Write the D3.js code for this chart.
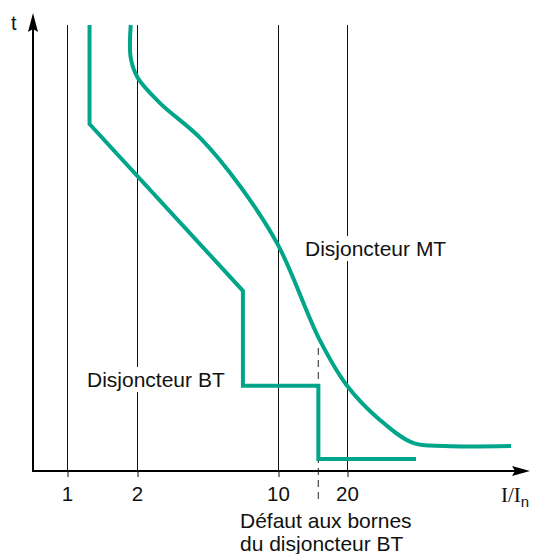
<!DOCTYPE html>
<html>
<head>
<meta charset="utf-8">
<script src="https://cdn.jsdelivr.net/npm/d3@7"></script>
<style>
  body { margin: 0; background: #fff; }
  svg { display: block; }
</style>
</head>
<body>
<script>
// grid / tick values on the I/In axis
const gridValues = [1, 2, 10, 20];
const tickLabels = ["1", "2", "10", "20"];

// low-voltage breaker (BT) curve: current ratio and time (arbitrary units)
const btCurrent = [1.25, 1.25, 6.7, 6.7, 15, 15, 40];
const btTime = [100, 77.8, 40.4, 19.1, 19.1, 2.7, 2.7];

// medium-voltage breaker (MT) curve
const mtCurrent = [1.88, 1.88, 2.02, 2.6, 4.11, 6.48, 10, 15.2, 19.9, 27.9, 38.8, 53.5, 104];
const mtTime = [100, 92.6, 88.1, 82.5, 74.7, 63.9, 50.7, 29.4, 19.3, 11.4, 6.3, 5.6, 5.6];

const faultCurrent = 15;
const faultTopTime = 27.6;

const width = 533, height = 554;
const teal = "#00a58a";
const font = "'Liberation Sans', Arial, sans-serif";

// schematic axis: piecewise log scale, as in the drawing
const x = d3.scaleLog()
    .domain(gridValues)
    .range([67, 137, 278, 347]);

const y = d3.scaleLinear()
    .domain([0, 100])
    .range([471, 25]);

const x0 = 33; // y axis position

const svg = d3.select("body").append("svg")
    .attr("width", width)
    .attr("height", height);

// vertical grid lines
svg.append("g")
    .selectAll("line")
    .data(gridValues)
    .join("line")
    .attr("x1", d => Math.round(x(d)) + 0.5)
    .attr("x2", d => Math.round(x(d)) + 0.5)
    .attr("y1", y(0))
    .attr("y2", y(100))
    .attr("stroke", "#111")
    .attr("stroke-width", 1);

// x axis ticks + labels
const xAxis = d3.axisBottom(x)
    .tickValues(gridValues)
    .tickSize(6)
    .tickFormat((d, i) => tickLabels[i]);

svg.append("g")
    .attr("transform", `translate(0,${y(0)})`)
    .call(xAxis)
    .call(g => g.select(".domain").remove())
    .call(g => g.selectAll(".tick line")
        .attr("stroke", "#111")
        .attr("transform", "translate(0.5,0)"))
    .call(g => g.selectAll(".tick text")
        .attr("y", 30)
        .attr("dy", 0)
        .attr("fill", "#111")
        .style("font", `20.5px ${font}`));

// fault dashed line
svg.append("line")
    .attr("x1", x(faultCurrent))
    .attr("x2", x(faultCurrent))
    .attr("y1", y(faultTopTime))
    .attr("y2", y(0) + 29)
    .attr("stroke", "#555")
    .attr("stroke-width", 1.3)
    .attr("stroke-dasharray", "7,5");

// axes with arrows
svg.append("line")
    .attr("x1", x0).attr("x2", x0)
    .attr("y1", y(0) + 1).attr("y2", 28)
    .attr("stroke", "#000").attr("stroke-width", 2);
svg.append("line")
    .attr("x1", x0 - 1).attr("x2", 516)
    .attr("y1", y(0)).attr("y2", y(0))
    .attr("stroke", "#000").attr("stroke-width", 2);
svg.append("path")
    .attr("d", `M${x0},13 L${x0 + 5},32 L${x0},29 L${x0 - 5},32 Z`)
    .attr("fill", "#000");
svg.append("path")
    .attr("d", `M530,${y(0)} L512,${y(0) - 5} L515,${y(0)} L512,${y(0) + 5} Z`)
    .attr("fill", "#000");

// curves
const btLine = d3.line()
    .x(d => x(d[0]))
    .y(d => y(d[1]));

svg.append("path")
    .datum(d3.zip(btCurrent, btTime))
    .attr("d", btLine)
    .attr("fill", "none")
    .attr("stroke", teal)
    .attr("stroke-width", 4)
    .attr("stroke-linejoin", "miter");

const mtLine = d3.line()
    .x(d => x(d[0]))
    .y(d => y(d[1]))
    .curve(d3.curveCatmullRom.alpha(0.5));

svg.append("path")
    .datum(d3.zip(mtCurrent, mtTime))
    .attr("d", mtLine)
    .attr("fill", "none")
    .attr("stroke", teal)
    .attr("stroke-width", 4);

// labels with white background
function label(text, px, py) {
    const g = svg.append("g");
    const rect = g.append("rect").attr("fill", "#fff");
    const t = g.append("text")
        .attr("x", px)
        .attr("y", py)
        .attr("fill", "#111")
        .style("font", `21px ${font}`)
        .text(text);
    const b = t.node().getBBox();
    rect.attr("x", b.x - 2).attr("y", b.y - 1)
        .attr("width", b.width + 4).attr("height", b.height + 2);
}
label("Disjoncteur MT", 305, 256);
label("Disjoncteur BT", 87, 387);

// axis titles
svg.append("text")
    .attr("x", 11).attr("y", 30)
    .attr("fill", "#111")
    .style("font", `20px ${font}`)
    .text("t");

const xt = svg.append("text")
    .attr("x", 501).attr("y", 502)
    .attr("fill", "#111")
    .style("font", "21px 'Liberation Serif', 'Times New Roman', serif")
    .text("I/I");
xt.append("tspan")
    .attr("dy", 5)
    .style("font", `15px ${font}`)
    .text("n");

// fault annotation
const note = svg.append("text")
    .attr("fill", "#111")
    .style("font", `21px ${font}`);
note.append("tspan").attr("x", 240).attr("y", 528).text("Défaut aux bornes");
note.append("tspan").attr("x", 240).attr("y", 551).text("du disjoncteur BT");
</script>
</body>
</html>
